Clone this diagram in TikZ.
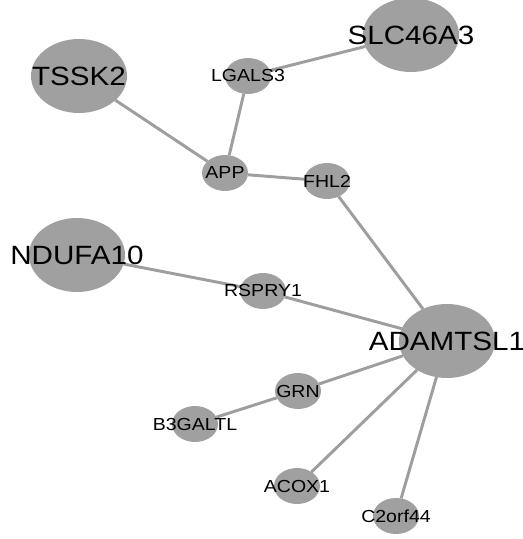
\documentclass[tikz,border=0pt]{standalone}
\usepackage{fontspec}
\setmainfont[FakeStretch=1.12]{Liberation Sans}
\usepackage{tikz-network}
\usetikzlibrary{shapes.geometric}
\definecolor{nodegray}{RGB}{160,160,160}
\definecolor{edgegray}{RGB}{158,158,158}
\newcommand{\hubfont}{\fontsize{18.8}{19}\selectfont}
\newcommand{\genefont}{\fontsize{12.4}{13}\selectfont}
\tikzset{
  hub/.style={shape=ellipse,draw=none,minimum width=2.4cm,minimum height=1.85cm},
  gene/.style={shape=ellipse,draw=none,minimum width=1.15cm,minimum height=0.9cm}
}

\begin{document}
\begin{tikzpicture}
\useasboundingbox (0,0) rectangle (13.075,13.475);
\clip (0,0) rectangle (13.075,13.475);
\Vertex[x=10.275,y=12.600,label=SLC46A3,position=center,color=nodegray,fontsize=\hubfont,style={hub}]{SLC46A3}
\Vertex[x=1.975,y=11.575,label=TSSK2,position=center,color=nodegray,fontsize=\hubfont,style={hub}]{TSSK2}
\Vertex[x=6.200,y=11.575,label=LGALS3,position=center,color=nodegray,fontsize=\genefont,style={gene}]{LGALS3}
\Vertex[x=5.625,y=9.150,label=APP,position=center,color=nodegray,fontsize=\genefont,style={gene}]{APP}
\Vertex[x=8.175,y=8.950,label=FHL2,position=center,color=nodegray,fontsize=\genefont,style={gene}]{FHL2}
\Vertex[x=1.925,y=7.100,label=NDUFA10,position=center,color=nodegray,fontsize=\hubfont,style={hub}]{NDUFA10}
\Vertex[x=6.575,y=6.200,label=RSPRY1,position=center,color=nodegray,fontsize=\genefont,style={gene}]{RSPRY1}
\Vertex[x=11.175,y=4.950,label=ADAMTSL1,position=center,color=nodegray,fontsize=\hubfont,style={hub}]{ADAMTSL1}
\Vertex[x=7.450,y=3.700,label=GRN,position=center,color=nodegray,fontsize=\genefont,style={gene}]{GRN}
\Vertex[x=4.875,y=2.875,label=B3GALTL,position=center,color=nodegray,fontsize=\genefont,style={gene}]{B3GALTL}
\Vertex[x=7.425,y=1.325,label=ACOX1,position=center,color=nodegray,fontsize=\genefont,style={gene}]{ACOX1}
\Vertex[x=9.900,y=0.575,label=C2orf44,position=center,color=nodegray,fontsize=\genefont,style={gene}]{C2orf44}
\Edge[lw=2.1,color=edgegray](SLC46A3)(LGALS3)
\Edge[lw=2.1,color=edgegray](LGALS3)(APP)
\Edge[lw=2.1,color=edgegray](TSSK2)(APP)
\Edge[lw=2.1,color=edgegray](APP)(FHL2)
\Edge[lw=2.1,color=edgegray](FHL2)(ADAMTSL1)
\Edge[lw=2.1,color=edgegray](NDUFA10)(RSPRY1)
\Edge[lw=2.1,color=edgegray](RSPRY1)(ADAMTSL1)
\Edge[lw=2.1,color=edgegray](ADAMTSL1)(GRN)
\Edge[lw=2.1,color=edgegray](GRN)(B3GALTL)
\Edge[lw=2.1,color=edgegray](ADAMTSL1)(ACOX1)
\Edge[lw=2.1,color=edgegray](ADAMTSL1)(C2orf44)
\end{tikzpicture}
\end{document}
